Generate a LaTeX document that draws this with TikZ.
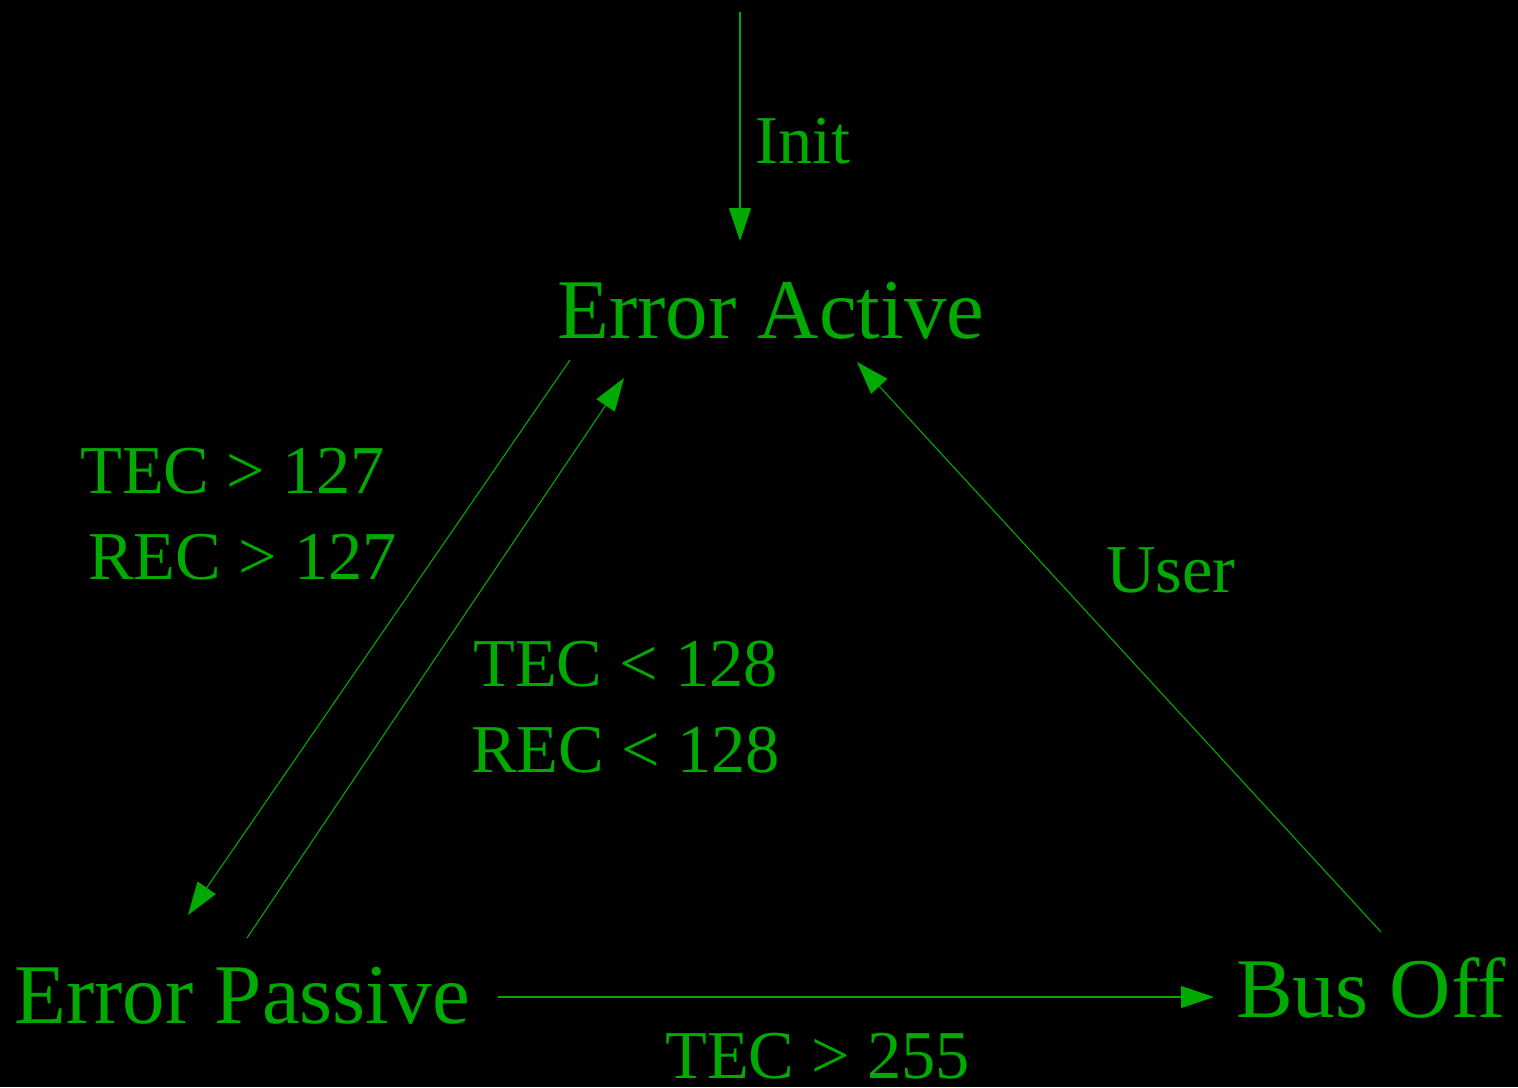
\documentclass[tikz,border=0pt]{standalone}
\usepackage{fontspec}
\setmainfont{Liberation Serif}
\usetikzlibrary{arrows.meta}
\definecolor{fg}{RGB}{0,170,0}
\begin{document}
\begin{tikzpicture}[x=1pt,y=-1pt,
  state/.style={text=fg,inner sep=0pt,anchor=base west,font=\fontsize{85}{100}\selectfont},
  lab/.style={text=fg,inner sep=0pt,anchor=base west,font=\fontsize{68.5}{80}\selectfont},
  conn/.style={draw=fg,line width=1.1pt,-{Triangle[length=33pt,width=22pt]}}]
\fill[black] (0,0) rectangle (1518,1087);
\useasboundingbox (0,0) rectangle (1518,1087);
% states
\node[state] (ea) at (557,338) {Error Active};
\node[state] (ep) at (14,1023) {Error Passive};
\node[state] (bo) at (1236,1017) {Bus Off};
% labels
\node[lab] (init) at (755,163) {Init};
\node[lab] (t127) at (80,493) {TEC > 127};
\node[lab] (r127) at (88,579) {REC > 127};
\node[lab] (t128) at (473,686) {TEC < 128};
\node[lab] (r128) at (471,772) {REC < 128};
\node[lab] (user) at (1106,592) {User};
\node[lab] (t255) at (665,1078) {TEC > 255};
% connector ends
\coordinate (start) at (740,12);
\coordinate (eaIn) at (740,241);
\coordinate (eaOut1) at (570,360);
\coordinate (epIn1) at (188,915);
\coordinate (epOut1) at (247,938);
\coordinate (eaIn2) at (624,378);
\coordinate (boOut) at (1381,932);
\coordinate (eaIn3) at (857,362);
\coordinate (epOut2) at (498,997);
\coordinate (boIn) at (1214,997);
% connectors
\draw[conn] (start) -- (eaIn);
\draw[conn] (eaOut1) -- (epIn1);
\draw[conn] (epOut1) -- (eaIn2);
\draw[conn] (boOut) -- (eaIn3);
\draw[conn] (epOut2) -- (boIn);
\end{tikzpicture}
\end{document}
